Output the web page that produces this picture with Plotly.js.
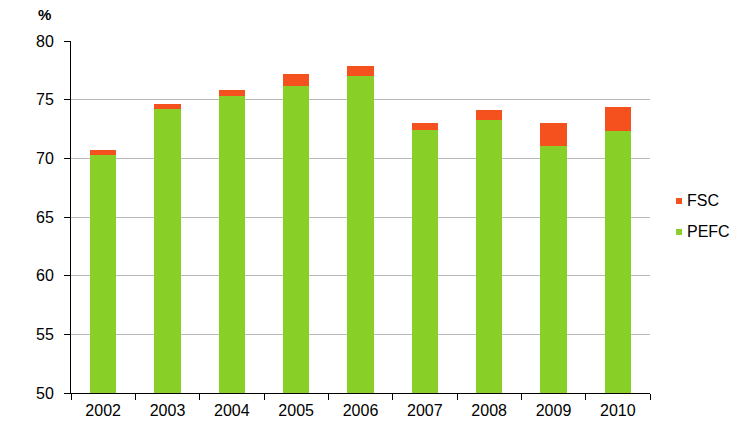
<!DOCTYPE html>
<html><head><meta charset="utf-8">
<script src="https://cdn.plot.ly/plotly-3.0.1.min.js"></script>
<style>body{margin:0;padding:0;}#chart{width:745px;height:426px;}</style>
</head><body><div id="chart"></div>
<script>
const years = ['2002','2003','2004','2005','2006','2007','2008','2009','2010'];
const pefc = [70.3, 74.2, 75.3, 76.2, 77.0, 72.4, 73.3, 71.05, 72.3];
const fsc = [0.4, 0.4, 0.5, 0.95, 0.85, 0.65, 0.8, 2.0, 2.05];
const seriesNames = ['PEFC', 'FSC'];
const colors = ['#88CF27', '#F4511E'];

const traces = [
  {type:'bar', name:seriesNames[0], x:years, y:pefc, marker:{color:colors[0]}, width:0.41, hoverinfo:'y'},
  {type:'bar', name:seriesNames[1], x:years, y:fsc, marker:{color:colors[1]}, width:0.41, hoverinfo:'y'}
];

// custom legend (FSC above PEFC), positioned in paper coordinates
const legendY = [0.4575, 0.5455]; // PEFC, FSC centres
const shapes = [];
const annotations = [{text:'<b>%</b>', xref:'paper', yref:'paper', x:-0.045, y:1.074, xanchor:'center', yanchor:'middle', showarrow:false, font:{size:15}}];
seriesNames.forEach((n, i) => {
  shapes.push({type:'rect', xref:'paper', yref:'paper', x0:1.0449, x1:1.0553, y0:legendY[i]-0.0085, y1:legendY[i]+0.0085, fillcolor:colors[i], line:{width:0}});
  annotations.push({text:n, xref:'paper', yref:'paper', x:1.0605, y:legendY[i], xanchor:'left', yanchor:'middle', showarrow:false, font:{size:16}});
});

const layout = {
  width:745, height:426,
  margin:{l:71, r:95, t:41, b:33},
  barmode:'stack',
  paper_bgcolor:'#fff', plot_bgcolor:'#fff',
  font:{family:'"Liberation Sans", Arial, sans-serif', size:16, color:'#000'},
  showlegend:false,
  shapes: shapes,
  annotations: annotations,
  xaxis:{type:'category', showline:true, linecolor:'#000', linewidth:1, ticks:'outside', tickson:'boundaries', ticklen:6, tickcolor:'#000', showgrid:false, tickfont:{size:16}, ticklabelstandoff:3},
  yaxis:{range:[50,80], dtick:5, showline:true, linecolor:'#000', linewidth:1, ticks:'outside', ticklen:6, tickcolor:'#000', showgrid:true, gridcolor:'#B8B8B8', gridwidth:1, zeroline:false, tickfont:{size:16}, ticklabelstandoff:7}
};
Plotly.newPlot('chart', traces, layout, {displayModeBar:false, staticPlot:true});
</script></body></html>
